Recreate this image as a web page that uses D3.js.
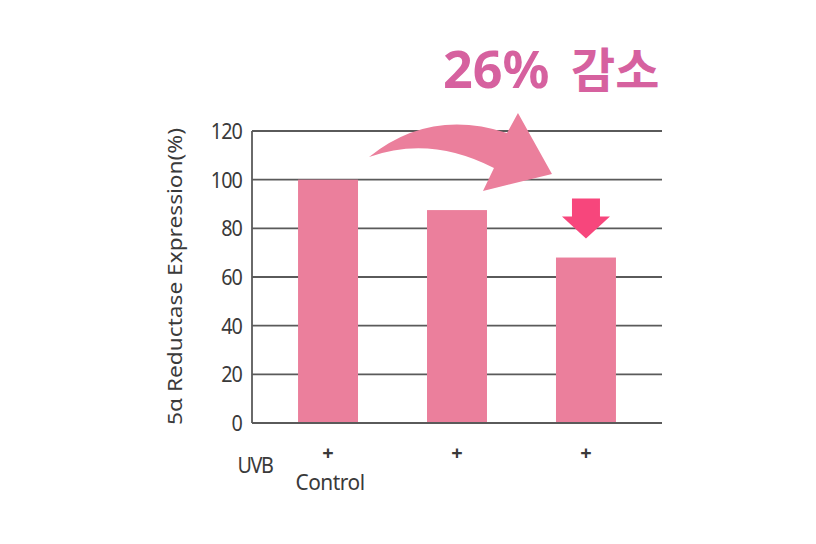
<!DOCTYPE html>
<html>
<head>
<meta charset="utf-8">
<script src="https://cdn.jsdelivr.net/npm/d3@7"></script>
<style>
  body { margin: 0; background: #fff; }
  text { font-family: "Noto Sans", "Noto Sans CJK KR", sans-serif; }
</style>
</head>
<body>
<div id="chart"></div>
<script>
// data
var groups = ["Control", "B", "C"];
var values = [100, 87.5, 68];
var uvbMarks = ["+", "+", "+"];
var yTicks = [0, 20, 40, 60, 80, 100, 120];
var title = "26% 감소";
var yLabel = "5α Reductase Expression(%)";

var W = 816, H = 544;
var svg = d3.select("#chart").append("svg")
    .attr("width", W)
    .attr("height", H);

// scales
var x = d3.scaleBand()
    .domain(groups)
    .range([252, 662])
    .paddingInner(0.535)
    .paddingOuter(0.357);

var y = d3.scaleLinear()
    .domain([0, 120])
    .range([423, 131]);

// gridlines
svg.append("g")
    .selectAll("line")
    .data(yTicks)
    .enter()
    .append("line")
    .attr("x1", 252)
    .attr("x2", 662)
    .attr("y1", function(d) { return y(d); })
    .attr("y2", function(d) { return y(d); })
    .attr("stroke", "#5a5a5a")
    .attr("stroke-width", 1.8);

// bars
svg.append("g")
    .selectAll("rect")
    .data(values)
    .enter()
    .append("rect")
    .attr("x", function(d, i) { return x(groups[i]); })
    .attr("y", function(d) { return y(d); })
    .attr("width", x.bandwidth())
    .attr("height", function(d) { return y(0) - y(d); })
    .attr("fill", "#eb7f9c");

// baseline + y axis line
svg.append("line")
    .attr("x1", 252).attr("x2", 662)
    .attr("y1", y(0)).attr("y2", y(0))
    .attr("stroke", "#5a5a5a").attr("stroke-width", 1.8);
svg.append("line")
    .attr("x1", 252).attr("x2", 252)
    .attr("y1", y(120)).attr("y2", y(0))
    .attr("stroke", "#5a5a5a").attr("stroke-width", 1.8);

// y tick labels (narrow tall face in the original)
svg.append("g")
    .selectAll("text")
    .data(yTicks)
    .enter()
    .append("text")
    .attr("transform", function(d) { return "translate(242," + y(d) + ") scale(0.9,1)"; })
    .attr("dy", "0.36em")
    .attr("text-anchor", "end")
    .attr("font-size", "22px")
    .attr("letter-spacing", "-1")
    .attr("fill", "#3a3a3a")
    .text(function(d) { return d; });

// y axis title
svg.append("text")
    .attr("transform", "translate(182," + (y(0) + 2) + ") rotate(-90)")
    .attr("font-size", "20px")
    .attr("textLength", 297)
    .attr("lengthAdjust", "spacingAndGlyphs")
    .attr("fill", "#3a3a3a")
    .text(yLabel);

// x labels: "+" marks
svg.append("g")
    .selectAll("text")
    .data(uvbMarks)
    .enter()
    .append("text")
    .attr("x", function(d, i) { return x(groups[i]) + x.bandwidth() / 2; })
    .attr("y", 460)
    .attr("text-anchor", "middle")
    .attr("font-size", "20px")
    .attr("font-weight", "bold")
    .attr("fill", "#3a3a3a")
    .text(function(d) { return d; });

svg.append("text")
    .attr("transform", "translate(255,473) scale(0.9,1)")
    .attr("text-anchor", "middle")
    .attr("font-size", "22px")
    .attr("letter-spacing", "-1.5")
    .attr("fill", "#3a3a3a")
    .text("UVB");

svg.append("text")
    .attr("transform", "translate(" + (x(groups[0]) + x.bandwidth() / 2 + 2) + ",490) scale(0.95,1)")
    .attr("text-anchor", "middle")
    .attr("font-size", "22px")
    .attr("letter-spacing", "-0.5")
    .attr("fill", "#3a3a3a")
    .text(groups[0]);

// curved arrow from bar 1 towards bar 3
var c1 = x(groups[0]) + x.bandwidth() / 2;
var c3 = x(groups[2]) + x.bandwidth() / 2;
var arrow = d3.path();
arrow.moveTo(c1 + 41, 157);
arrow.quadraticCurveTo(430, 108, c3 - 79, 133);
arrow.lineTo(c3 - 68, 113);
arrow.lineTo(c3 - 34, 174);
arrow.lineTo(c3 - 103, 191);
arrow.lineTo(c3 - 92, 168);
arrow.quadraticCurveTo(430, 135, c1 + 41, 157);
arrow.closePath();
svg.append("path")
    .attr("d", arrow.toString())
    .attr("fill", "#eb7f9c");

// down arrow above bar 3
var top3 = y(values[2]);
var down = d3.path();
down.moveTo(c3 - 14, top3 - 59);
down.lineTo(c3 + 14, top3 - 59);
down.lineTo(c3 + 14, top3 - 41);
down.lineTo(c3 + 24, top3 - 41);
down.lineTo(c3, top3 - 19);
down.lineTo(c3 - 24, top3 - 41);
down.lineTo(c3 - 14, top3 - 41);
down.closePath();
svg.append("path")
    .attr("d", down.toString())
    .attr("fill", "#f7467c");

// title
svg.append("text")
    .attr("x", 443)
    .attr("y", 88)
    .attr("font-size", "52px")
    .attr("font-weight", "bold")
    .attr("fill", "#d6619f")
    .text("26%");
svg.append("text")
    .attr("x", 571)
    .attr("y", 88)
    .attr("font-size", "48px")
    .attr("font-weight", "bold")
    .attr("fill", "#d6619f")
    .text("감소");
</script>
</body>
</html>
